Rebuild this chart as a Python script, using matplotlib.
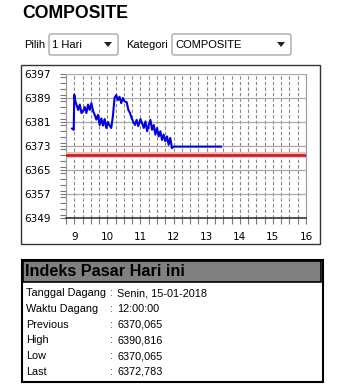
import matplotlib
matplotlib.use("Agg")
import matplotlib.pyplot as plt
from matplotlib.patches import Rectangle, FancyBboxPatch, Polygon
from matplotlib.ticker import MultipleLocator

# intraday COMPOSITE index, 15-01-2018
times = [
    "08:56", "08:59", "09:00", "09:02", "09:05", "09:07", "09:10", "09:13",
    "09:16", "09:19", "09:22", "09:25", "09:28", "09:31", "09:34", "09:37",
    "09:40", "09:43", "09:46", "09:49", "09:52", "09:55", "09:58", "10:01",
    "10:04", "10:07", "10:10", "10:13", "10:16", "10:19", "10:22", "10:25",
    "10:28", "10:31", "10:35", "10:38", "10:41", "10:44", "10:47", "10:50",
    "10:53", "10:56", "11:00", "11:03", "11:06", "11:09", "11:12", "11:15",
    "11:18", "11:21", "11:24", "11:27", "11:30", "11:33", "11:36", "11:39",
    "11:42", "11:45", "11:48", "11:51", "11:54", "11:57", "12:00", "13:26",
]
index_values = [
    6378.8, 6378.4, 6390.1, 6387.9, 6386.2, 6385.0, 6386.8, 6384.0,
    6384.7, 6386.0, 6384.0, 6386.8, 6385.0, 6387.3, 6384.7, 6383.4,
    6381.8, 6383.4, 6380.0, 6382.2, 6379.8, 6382.0, 6379.0, 6381.0,
    6379.8, 6379.0, 6383.0, 6389.0, 6390.0, 6388.3, 6389.4, 6387.3,
    6389.0, 6387.9, 6387.6, 6385.0, 6384.0, 6382.3, 6381.0, 6380.0,
    6381.7, 6379.6, 6382.0, 6380.5, 6379.0, 6381.2, 6377.9, 6380.0,
    6381.7, 6378.4, 6380.0, 6376.8, 6379.0, 6376.2, 6377.9, 6375.0,
    6376.8, 6374.6, 6376.2, 6373.4, 6375.7, 6372.3, 6372.8, 6372.8,
]
previous_close = 6370.065

y_ticks = [6349, 6357, 6365, 6373, 6381, 6389, 6397]
x_ticks = [9, 10, 11, 12, 13, 14, 15, 16]

info_labels = ["Tanggal Dagang", "Waktu Dagang", "Previous", "High", "Low", "Last"]
info_values = ["Senin, 15-01-2018", "12:00:00", "6370,065", "6390,816",
               "6370,065", "6372,783"]

hours = [int(t[:2]) + int(t[3:]) / 60 for t in times]

W, H = 345, 388
fig = plt.figure(figsize=(W / 100, H / 100), dpi=100)
fig.patch.set_facecolor("white")

# page overlay in pixel coordinates
page = fig.add_axes([0, 0, 1, 1])
page.set_xlim(0, W)
page.set_ylim(H, 0)
page.axis("off")

font = "Liberation Sans"
page.text(22, 13, "COMPOSITE", fontsize=12.7, fontweight="bold",
          family=font, va="center", ha="left")

# selector row
page.text(24, 45, "Pilih", fontsize=8, family=font, va="center")
page.text(126, 45, "Kategori", fontsize=8, family=font, va="center")
for x0, x1, label in [(49, 118, "1 Hari"), (172, 291, "COMPOSITE")]:
    page.add_patch(FancyBboxPatch((x0, 34), x1 - x0, 21,
                                  boxstyle="round,pad=0,rounding_size=2",
                                  fc="white", ec="#a9a9a9", lw=1))
    page.text(x0 + 3, 45, label, fontsize=8, family=font, va="center")
    ax_ = x1 - 10
    page.add_patch(Polygon([(ax_ - 4, 42), (ax_ + 4, 42), (ax_, 47)],
                           closed=True, fc="#222222", ec="none"))

# chart frame
page.add_patch(Rectangle((21, 65), 299, 179, fc="white", ec="#333333", lw=1))

# info panel
page.add_patch(Rectangle((21.5, 259.5), 301, 122, fc="white", ec="black", lw=1.5))
page.add_patch(Rectangle((23, 261), 298, 21, fc="#808080", ec="black", lw=1.2))
page.text(25, 272, "Indeks Pasar Hari ini", fontsize=11.7, fontweight="bold",
          family=font, va="center")
for i, (lab, val) in enumerate(zip(info_labels, info_values)):
    y = 293 + i * 15.8
    page.text(26, y, lab, fontsize=7.8, family=font, va="center")
    page.text(110, y, ":", fontsize=7.8, family=font, va="center", color="#444")
    page.text(117, y, val, fontsize=7.8, family=font, va="center")

# plot area
left, right, top, bottom = 66, 306, 74, 218
ax = fig.add_axes([left / W, 1 - bottom / H, (right - left) / W, (bottom - top) / H])
ax.set_facecolor("white")
ax.set_xlim(8.75, 16)
ax.set_ylim(6349, 6397)

ax.set_yticks(y_ticks)
ax.set_yticklabels([str(v) for v in y_ticks])
ax.yaxis.set_minor_locator(MultipleLocator(2))
ax.set_xticks(x_ticks)
ax.set_xticklabels([str(v) for v in x_ticks])
ax.xaxis.set_minor_locator(MultipleLocator(0.25))

ax.tick_params(axis="y", which="both", length=4, width=0.8, color="#777777",
               pad=7, labelsize=7.5)
ax.tick_params(axis="x", which="both", length=4, width=0.8, color="#777777",
               pad=6, labelsize=7.5)

ax.grid(axis="y", which="major", color="#aaaaaa", lw=0.9, ls="-")
ax.grid(axis="x", which="both", color="#888888", lw=0.8, ls=(0, (3, 2)))
ax.set_axisbelow(True)

for side in ["top"]:
    ax.spines[side].set_visible(False)
ax.spines["left"].set_color("#999999")
ax.spines["right"].set_color("#999999")
ax.spines["bottom"].set_color("#333333")
ax.spines["bottom"].set_linewidth(1.2)

ax.axhline(previous_close, color="#f3b0b0", lw=4, zorder=3)
ax.axhline(previous_close, color="#c8161e", lw=1.8, zorder=4)
ax.plot(hours, index_values, color="#0000e0", lw=1.5, zorder=5)

fig.savefig("out.png", dpi=100)
